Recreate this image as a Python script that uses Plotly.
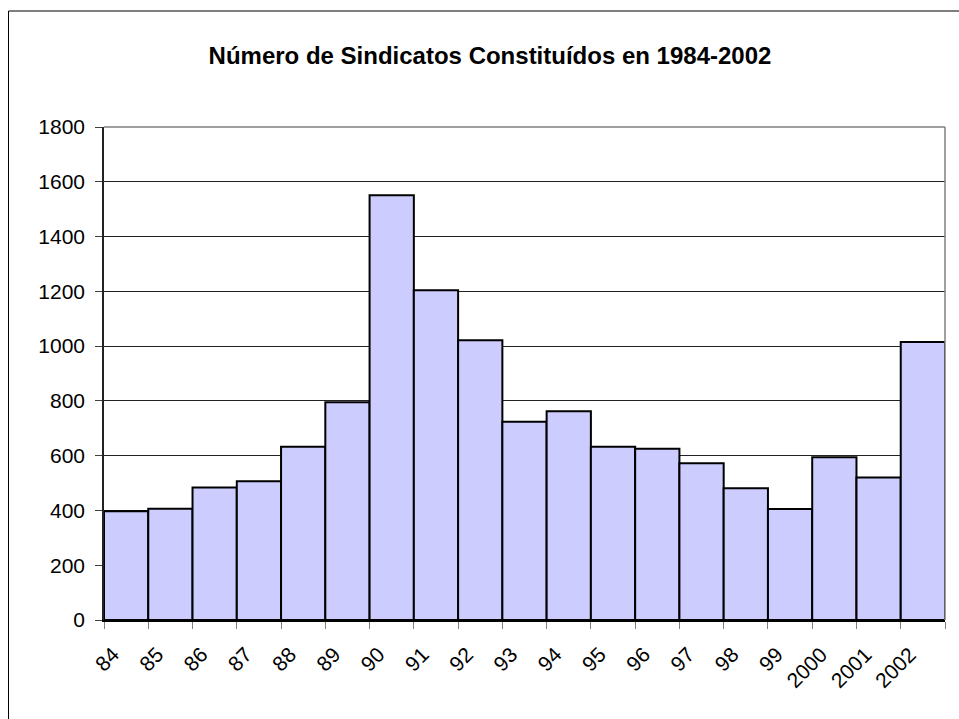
import plotly.graph_objects as go

categories = ["84", "85", "86", "87", "88", "89", "90", "91", "92", "93",
              "94", "95", "96", "97", "98", "99", "2000", "2001", "2002"]
values = [397, 406, 484, 507, 633, 795, 1551, 1204, 1021, 724,
          762, 633, 625, 572, 481, 405, 594, 520, 1015]
y_ticks = [0, 200, 400, 600, 800, 1000, 1200, 1400, 1600, 1800]
title_text = "Número de Sindicatos Constituídos en 1984-2002"

FONT = "Arial, 'Liberation Sans', sans-serif"
W, H = 959, 719
L, R, T, B = 104, 945, 127, 620

xpos = [i + 0.5 for i in range(len(categories))]

fig = go.Figure(go.Bar(
    x=xpos, y=values, width=1,
    marker=dict(color="#CCCCFF", line=dict(color="black", width=2)),
    hoverinfo="y",
))

pw, ph = R - L, B - T
def px_x(p):
    return (p - L) / pw
def px_y(p):
    return (B - p) / ph

fig.update_layout(
    width=W, height=H,
    margin=dict(l=L, r=W - R, t=T, b=H - B, pad=0),
    paper_bgcolor="white", plot_bgcolor="white",
    showlegend=False,
    font=dict(family=FONT, color="black", size=21),
    title=dict(text="<b>" + title_text + "</b>", x=490 / W, xref="container",
               xanchor="center", y=1 - 56 / H, yref="container", yanchor="middle",
               font=dict(family=FONT, size=24, color="black")),
    xaxis=dict(range=[0, len(categories)], tickmode="array",
               tickvals=list(range(len(categories) + 1)),
               ticktext=categories + [""],
               tickangle=-45, ticks="outside", ticklen=7, tickcolor="#808080",
               tickwidth=1, showgrid=False, zeroline=False,
               showline=True, linecolor="black", linewidth=2,
               ticklabelshift=9, ticklabelstandoff=5,
               tickfont=dict(family=FONT, size=21, color="black")),
    yaxis=dict(range=[0, 1800], tickmode="array", tickvals=y_ticks,
               ticks="outside", ticklen=7, tickcolor="#404040", tickwidth=1,
               showgrid=True, gridcolor="#222222", gridwidth=1,
               zeroline=False, showline=True, linecolor="#222222", linewidth=1.5,
               ticklabelstandoff=6,
               tickfont=dict(family=FONT, size=21, color="black")),
    shapes=[
        dict(type="line", xref="paper", yref="paper", x0=0, x1=1, y0=1, y1=1,
             line=dict(color="#808080", width=1.5), layer="above"),
        dict(type="line", xref="paper", yref="paper", x0=1, x1=1, y0=0, y1=1,
             line=dict(color="#808080", width=1.5), layer="above"),
        dict(type="line", xref="paper", yref="paper",
             x0=px_x(8.5), x1=px_x(8.5), y0=px_y(740), y1=px_y(11),
             line=dict(color="black", width=1), layer="above"),
        dict(type="line", xref="paper", yref="paper",
             x0=px_x(8.5), x1=px_x(990), y0=px_y(11), y1=px_y(11),
             line=dict(color="black", width=1), layer="above"),
    ],
)

fig.write_html(
    "out.html",
    config={"displayModeBar": False},
    post_script="document.body.style.margin='0';document.body.style.overflow='hidden';",
)
